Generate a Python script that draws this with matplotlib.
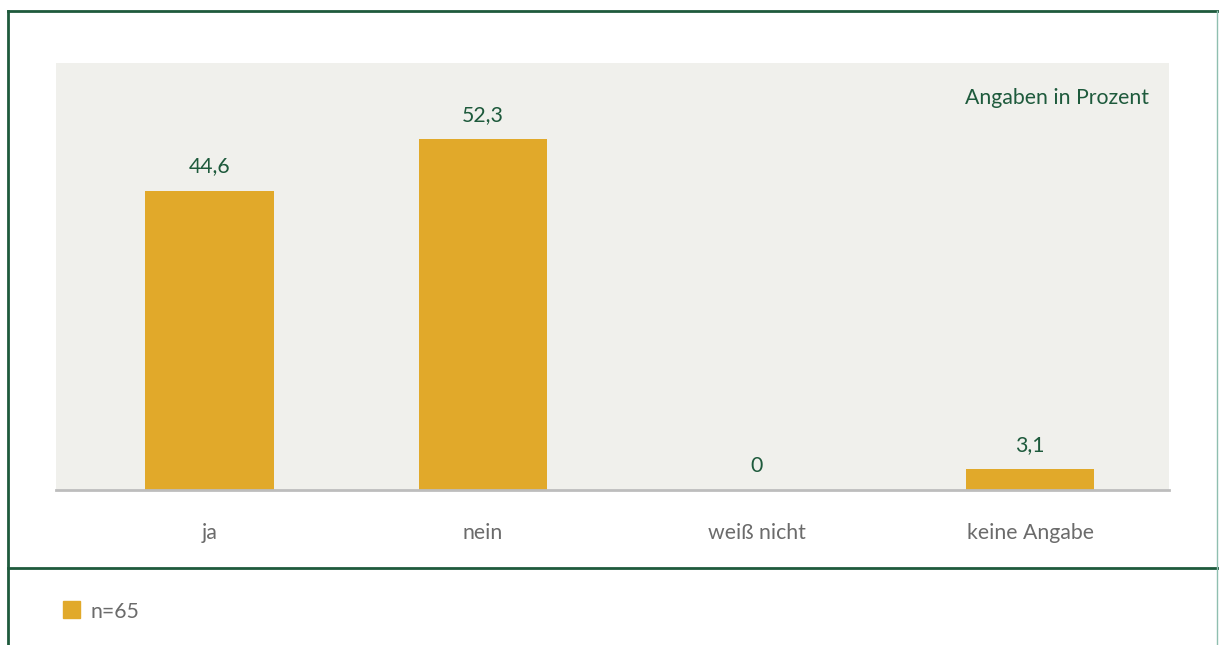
import matplotlib.pyplot as plt
from matplotlib.lines import Line2D
from matplotlib.patches import Rectangle

categories = ["ja", "nein", "weiß nicht", "keine Angabe"]
values = [44.6, 52.3, 0, 3.1]
value_labels = ["44,6", "52,3", "0", "3,1"]
legend_label = "n=65"
unit_note = "Angaben in Prozent"

BAR = "#E1A92A"
GREEN = "#1E5A3C"
GREY_TXT = "#6B6B6B"
PANEL = "#F0F0EC"
FS = 15.3

plt.rcParams["font.family"] = ["Lato", "DejaVu Sans"]

W, H = 1219, 645
fig = plt.figure(figsize=(W / 100, H / 100), dpi=100)

# plot area in pixel coords -> figure fractions
left, right, top, base = 56, 1169, 63, 490
ax = fig.add_axes([left / W, 1 - base / H, (right - left) / W, (base - top) / H])
ax.set_facecolor(PANEL)

x = list(range(len(categories)))
ax.bar(x, values, width=0.47, color=BAR, zorder=2)
for xi, v, lab in zip(x, values, value_labels):
    ax.text(xi, v + 3.6, lab, ha="center", va="center", fontsize=FS, color=GREEN)

ax.set_xlim(-0.561, 3.508)
ax.set_ylim(0, 63.6)
ax.set_yticks([])
ax.set_xticks(x)
ax.set_xticklabels(categories, fontsize=FS, color=GREY_TXT)
for t in ax.get_xticklabels():
    t.set_va("center")
ax.tick_params(axis="x", length=0, pad=31)
for s in ["top", "left", "right"]:
    ax.spines[s].set_visible(False)
ax.spines["bottom"].set_color("#BDBDBD")
ax.spines["bottom"].set_linewidth(2)

ax.text(1 - 20 / (right - left), 1 - 35 / (base - top), unit_note, transform=ax.transAxes,
        ha="right", va="center", fontsize=FS, color=GREEN)

# frame lines
def fx(px):
    return px / W

def fy(py):
    return 1 - py / H

fig.add_artist(Line2D([fx(8), fx(W)], [fy(11), fy(11)], color=GREEN, lw=2))
fig.add_artist(Line2D([fx(8), fx(8)], [fy(11), fy(H)], color=GREEN, lw=2))
fig.add_artist(Line2D([fx(8), fx(W)], [fy(568), fy(568)], color=GREEN, lw=2))
fig.add_artist(Line2D([fx(1217), fx(1217)], [fy(11), fy(H)], color="#8FBFB0", lw=1))

# legend
fig.add_artist(Rectangle((fx(63), fy(618)), 17 / W, 17 / H, color=BAR, transform=fig.transFigure))
fig.text(fx(90), fy(612), legend_label, ha="left", va="center", fontsize=FS, color=GREY_TXT)

fig.savefig("out.png", dpi=100)
